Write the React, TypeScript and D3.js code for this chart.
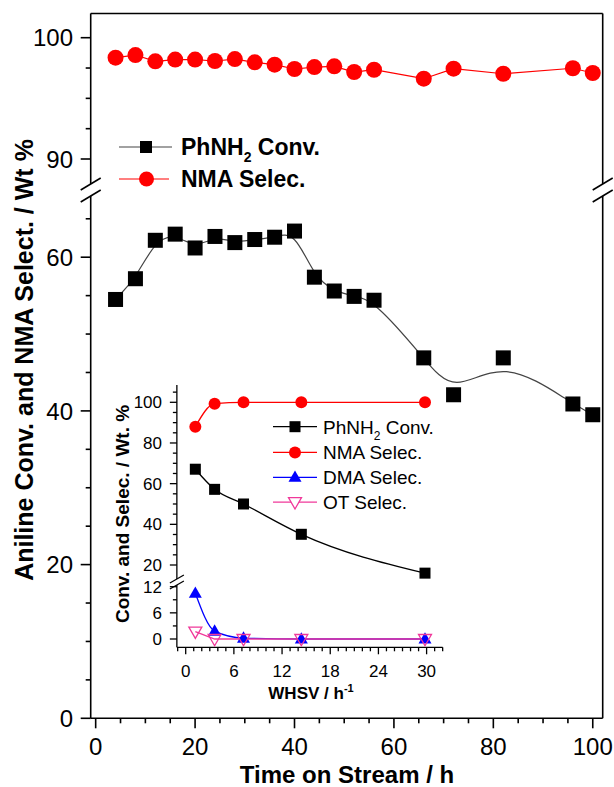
import React from "react";
import * as d3 from "d3";

// ---------- data (main chart) ----------
const timeOnStream = [4, 8, 12, 16, 20, 24, 28, 32, 36, 40, 44, 48, 52, 56, 66, 72, 82, 96, 100];
const phnh2Conv = [54.5, 57.2, 62.2, 63.0, 61.2, 62.7, 61.9, 62.3, 62.6, 63.4, 57.4, 55.6, 54.9, 54.4, 46.9, 42.1, 46.9, 40.9, 39.5];
const nmaSelec = [98.35, 98.57, 98.05, 98.2, 98.2, 98.08, 98.24, 97.97, 97.78, 97.42, 97.58, 97.64, 97.17, 97.36, 96.62, 97.45, 97.03, 97.48, 97.09];

// ---------- data (inset) ----------
const whsv = [1.2, 3.6, 7.2, 14.4, 29.8];
const insetConv = [67.1, 57.2, 50.0, 35.1, 16.0];
const insetNma = [88.0, 99.3, 100, 100, 100];
const insetDma = [10.5, 1.8, 0.2, 0, 0];
const insetOt = [1.7, 0, 0, 0, 0];

// ---------- ticks ----------
const xMajor = [0, 20, 40, 60, 80, 100];
const yLowMajor = [0, 20, 40, 60];
const yUpMajor = [90, 100];
const insetXMajor = [0, 6, 12, 18, 24, 30];
const insetYUpMajor = [20, 40, 60, 80, 100];
const insetYLowMajor = [0, 6, 12];

const FONT = "'Liberation Sans', Arial, Helvetica, sans-serif";
const RED = "#ff0000";
const BLUE = "#0000ff";
const PINK = "#f0389a";
const GRAY = "#444";

export default function App() {
  // main scales
  const x = d3.scaleLinear().domain([-1, 102]).range([90.7, 602.7]);
  const yLow = d3.scaleLinear().domain([0, 60]).range([718.3, 257.2]);
  const yUp = d3.scaleLinear().domain([90, 100]).range([159, 37.7]);
  const left = x(-1), right = x(102);
  const top = yUp(102), bottom = yLow(0);
  const brkA = 184, brkB = 196;

  // inset scales
  const xi = d3.scaleLinear().domain([0, 30]).range([185.7, 426.6]);
  const yiUp = d3.scaleLinear().domain([20, 100]).range([565, 402.3]);
  const yiLow = d3.scaleLinear().domain([0, 12]).range([639, 586.7]);
  const iLeft = xi(-1.1), iRight = xi(32);
  const iTop = yiUp(108.5), iBottom = yiLow(-1.9);
  const ibA = 579, ibB = 585;

  const xMinor = d3.range(5, 101, 5).filter((v) => v % 20 !== 0);
  const yLowMinor = d3.range(5, 66, 5).filter((v) => v % 20 !== 0);
  const yUpMinor = [92.5, 95, 97.5];
  const ixMinor = d3.range(-1, 33, 1).filter((v) => v % 6 !== 0);
  const iyUpMinor = d3.range(25, 106, 5).filter((v) => v % 20 !== 0);
  const iyLowMinor = [3, 9];

  const mainBlack = d3
    .line<number>()
    .x((_, i) => x(timeOnStream[i]))
    .y((d) => yLow(d))
    .curve(d3.curveBasis)(phnh2Conv) as string;
  const mainRed = d3
    .line<number>()
    .x((_, i) => x(timeOnStream[i]))
    .y((d) => yUp(d))(nmaSelec) as string;

  const insetLine = (vals: number[], ys: (v: number) => number, curve: any) =>
    d3
      .line<number>()
      .x((_, i) => xi(whsv[i]))
      .y((d) => ys(d))
      .curve(curve)(vals) as string;

  const breakMarks = (cx: number, cy: number, dx: number, dy: number, key: string) => (
    <line key={key} x1={cx - dx} y1={cy + dy} x2={cx + dx} y2={cy - dy} stroke="#000" strokeWidth={1.6} />
  );

  const tri = (cx: number, cy: number, s: number, up: boolean) => {
    const h = s * 0.87;
    return up
      ? `M${cx},${cy - h * 0.6} L${cx + s / 2},${cy + h * 0.4} L${cx - s / 2},${cy + h * 0.4} Z`
      : `M${cx},${cy + h * 0.6} L${cx + s / 2},${cy - h * 0.4} L${cx - s / 2},${cy - h * 0.4} Z`;
  };

  const mainLegendY = [147, 179];
  const insetLegendY = [426.7, 452.4, 477.3, 502.2];

  return (
    <div style={{ position: "absolute", left: 0, top: 0, width: 614, height: 787, background: "#fff" }}>
      <svg width={614} height={787} style={{ display: "block" }} fontFamily={FONT}>
        <rect x={0} y={0} width={614} height={787} fill="#fff" />

        {/* ---------- main frame ---------- */}
        <g stroke="#000" strokeWidth={1.6} fill="none">
          <line x1={left} y1={top} x2={right} y2={top} />
          <line x1={left} y1={bottom} x2={right} y2={bottom} />
          <line x1={left} y1={top} x2={left} y2={brkA} />
          <line x1={left} y1={brkB} x2={left} y2={bottom} />
          <line x1={right} y1={top} x2={right} y2={brkA} />
          <line x1={right} y1={brkB} x2={right} y2={bottom} />
        </g>
        {breakMarks(left, brkA, 10, 6, "bl1")}
        {breakMarks(left, brkB, 10, 6, "bl2")}
        {breakMarks(right, brkA, 10, 6, "br1")}
        {breakMarks(right, brkB, 10, 6, "br2")}

        {/* ticks */}
        <g stroke="#000" strokeWidth={1.6}>
          {xMajor.map((v) => (
            <line key={"xM" + v} x1={x(v)} x2={x(v)} y1={bottom} y2={bottom + 10} />
          ))}
          {xMinor.map((v) => (
            <line key={"xm" + v} x1={x(v)} x2={x(v)} y1={bottom} y2={bottom + 5} />
          ))}
          {yLowMajor.map((v) => (
            <line key={"yM" + v} x1={left - 10} x2={left} y1={yLow(v)} y2={yLow(v)} />
          ))}
          {yLowMinor.map((v) => (
            <line key={"ym" + v} x1={left - 5} x2={left} y1={yLow(v)} y2={yLow(v)} />
          ))}
          {yUpMajor.map((v) => (
            <line key={"yuM" + v} x1={left - 10} x2={left} y1={yUp(v)} y2={yUp(v)} />
          ))}
          {yUpMinor.map((v) => (
            <line key={"yum" + v} x1={left - 5} x2={left} y1={yUp(v)} y2={yUp(v)} />
          ))}
        </g>
        <g fontSize={24} fill="#000">
          {xMajor.map((v) => (
            <text key={"xl" + v} x={x(v)} y={755} textAnchor="middle">
              {v}
            </text>
          ))}
          {yLowMajor.map((v) => (
            <text key={"yl" + v} x={73} y={yLow(v) + 8.6} textAnchor="end">
              {v}
            </text>
          ))}
          {yUpMajor.map((v) => (
            <text key={"yul" + v} x={73} y={yUp(v) + 8.6} textAnchor="end">
              {v}
            </text>
          ))}
        </g>
        <text x={347} y={783} textAnchor="middle" fontSize={24} fontWeight="bold">
          Time on Stream / h
        </text>
        <text transform={`translate(33,360) rotate(-90)`} textAnchor="middle" fontSize={25} fontWeight="bold">
          Aniline Conv. and NMA Select. / Wt %
        </text>

        {/* main series */}
        <path d={mainBlack} fill="none" stroke={GRAY} strokeWidth={1.2} />
        <path d={mainRed} fill="none" stroke={RED} strokeWidth={1.2} />
        {phnh2Conv.map((v, i) => (
          <rect key={"sq" + i} x={x(timeOnStream[i]) - 7.5} y={yLow(v) - 7.5} width={15} height={15} fill="#000" />
        ))}
        {nmaSelec.map((v, i) => (
          <circle key={"ci" + i} cx={x(timeOnStream[i])} cy={yUp(v)} r={8} fill={RED} />
        ))}

        {/* main legend */}
        <line x1={119} x2={172} y1={mainLegendY[0]} y2={mainLegendY[0]} stroke={GRAY} strokeWidth={1.2} />
        <rect x={146 - 6} y={mainLegendY[0] - 6} width={12} height={12} fill="#000" />
        <line x1={119} x2={169} y1={mainLegendY[1]} y2={mainLegendY[1]} stroke={RED} strokeWidth={1.2} />
        <circle cx={146.5} cy={mainLegendY[1]} r={7.5} fill={RED} />
        <text x={181} y={mainLegendY[0] + 8} fontSize={23} fontWeight="bold">
          PhNH
          <tspan fontSize={14} dy={7}>2</tspan>
          <tspan dy={-7}> Conv.</tspan>
        </text>
        <text x={181} y={mainLegendY[1] + 8} fontSize={23} fontWeight="bold">
          NMA Selec.
        </text>

        {/* ---------- inset ---------- */}
        <g stroke="#000" strokeWidth={1.3} fill="none">
          <line x1={iLeft} y1={iBottom} x2={iRight} y2={iBottom} />
          <line x1={iLeft} y1={iTop} x2={iLeft} y2={ibA} />
          <line x1={iLeft} y1={ibB} x2={iLeft} y2={iBottom} />
          <line x1={iLeft - 7} y1={ibA + 4} x2={iLeft + 7} y2={ibA - 4} />
          <line x1={iLeft - 7} y1={ibB + 4} x2={iLeft + 7} y2={ibB - 4} />
          {insetXMajor.map((v) => (
            <line key={"ixM" + v} x1={xi(v)} x2={xi(v)} y1={iBottom} y2={iBottom + 7} />
          ))}
          {ixMinor.map((v) => (
            <line key={"ixm" + v} x1={xi(v)} x2={xi(v)} y1={iBottom} y2={iBottom + 4} />
          ))}
          {insetYUpMajor.map((v) => (
            <line key={"iyM" + v} x1={iLeft - 7} x2={iLeft} y1={yiUp(v)} y2={yiUp(v)} />
          ))}
          {iyUpMinor.map((v) => (
            <line key={"iym" + v} x1={iLeft - 4} x2={iLeft} y1={yiUp(v)} y2={yiUp(v)} />
          ))}
          {insetYLowMajor.map((v) => (
            <line key={"iylM" + v} x1={iLeft - 7} x2={iLeft} y1={yiLow(v)} y2={yiLow(v)} />
          ))}
          {iyLowMinor.map((v) => (
            <line key={"iylm" + v} x1={iLeft - 4} x2={iLeft} y1={yiLow(v)} y2={yiLow(v)} />
          ))}
        </g>
        <g fontSize={17} fill="#000">
          {insetXMajor.map((v) => (
            <text key={"ixl" + v} x={xi(v)} y={677} textAnchor="middle">
              {v}
            </text>
          ))}
          {insetYUpMajor.map((v) => (
            <text key={"iyl" + v} x={162} y={yiUp(v) + 6.1} textAnchor="end">
              {v}
            </text>
          ))}
          {insetYLowMajor.map((v) => (
            <text key={"iyll" + v} x={162} y={yiLow(v) + 6.1} textAnchor="end">
              {v}
            </text>
          ))}
        </g>
        <text x={311} y={699} textAnchor="middle" fontSize={17} fontWeight="bold">
          WHSV / h
          <tspan fontSize={11} dy={-7}>-1</tspan>
        </text>
        <text transform={`translate(128.5,514) rotate(-90)`} textAnchor="middle" fontSize={19} fontWeight="bold">
          Conv. and Selec. / Wt. %
        </text>

        {/* inset series */}
        <path d={insetLine(insetConv, yiUp, d3.curveMonotoneX)} fill="none" stroke="#000" strokeWidth={1.3} />
        <path d={insetLine(insetNma, yiUp, d3.curveMonotoneX)} fill="none" stroke={RED} strokeWidth={1.3} />
        <path d={insetLine(insetDma, yiLow, d3.curveMonotoneX)} fill="none" stroke={BLUE} strokeWidth={1.3} />
        <path d={insetLine(insetOt, yiLow, d3.curveLinear)} fill="none" stroke={PINK} strokeWidth={1.3} />
        {insetConv.map((v, i) => (
          <rect key={"isq" + i} x={xi(whsv[i]) - 5.5} y={yiUp(v) - 5.5} width={11} height={11} fill="#000" />
        ))}
        {insetNma.map((v, i) => (
          <circle key={"ici" + i} cx={xi(whsv[i])} cy={yiUp(v)} r={6} fill={RED} />
        ))}
        {insetDma.map((v, i) => (
          <path key={"idt" + i} d={tri(xi(whsv[i]), yiLow(v), 13, true)} fill={BLUE} />
        ))}
        {insetOt.map((v, i) => (
          <path key={"iot" + i} d={tri(xi(whsv[i]), yiLow(v), 13, false)} fill="none" stroke={PINK} strokeWidth={1.3} />
        ))}

        {/* inset legend */}
        <line x1={273} x2={317} y1={insetLegendY[0]} y2={insetLegendY[0]} stroke="#000" strokeWidth={1.3} />
        <rect x={295 - 5.5} y={insetLegendY[0] - 5.5} width={11} height={11} fill="#000" />
        <line x1={273} x2={317} y1={insetLegendY[1]} y2={insetLegendY[1]} stroke={RED} strokeWidth={1.3} />
        <circle cx={295} cy={insetLegendY[1]} r={6} fill={RED} />
        <line x1={273} x2={317} y1={insetLegendY[2]} y2={insetLegendY[2]} stroke={BLUE} strokeWidth={1.3} />
        <path d={tri(295, insetLegendY[2], 13, true)} fill={BLUE} />
        <line x1={273} x2={317} y1={insetLegendY[3]} y2={insetLegendY[3]} stroke={PINK} strokeWidth={1.3} />
        <path d={tri(295, insetLegendY[3], 13, false)} fill="#fff" stroke={PINK} strokeWidth={1.3} />
        <g fontSize={19} fill="#000">
          <text x={323} y={insetLegendY[0] + 7}>
            PhNH
            <tspan fontSize={12} dy={6}>2</tspan>
            <tspan dy={-6}> Conv.</tspan>
          </text>
          <text x={323} y={insetLegendY[1] + 7}>NMA Selec.</text>
          <text x={323} y={insetLegendY[2] + 7}>DMA Selec.</text>
          <text x={323} y={insetLegendY[3] + 7}>OT Selec.</text>
        </g>
      </svg>
    </div>
  );
}
